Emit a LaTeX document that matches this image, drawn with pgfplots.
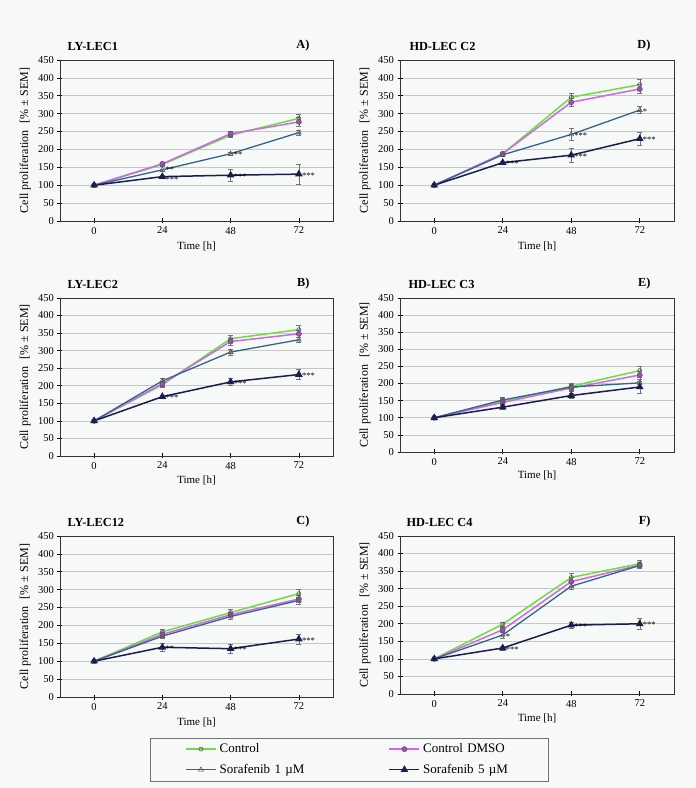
\documentclass[border=0pt]{standalone}
\usepackage{fontspec}
\setmainfont{Liberation Serif}
\usepackage{pgfplots}
\usepackage{pgfplotstable}
\pgfplotsset{compat=1.18}
\definecolor{bg}{RGB}{247,249,249}
\definecolor{ctrl}{RGB}{110,222,60}
\definecolor{dmso}{RGB}{205,105,232}
\definecolor{dmsom}{RGB}{165,70,205}
\definecolor{sorA}{RGB}{50,100,140}
\definecolor{sorB}{RGB}{28,28,78}

\pgfplotstableread{
t c ce d de s se v ve
0 100 2 100 2 100 2 100 2
24 158 4 160 4 143 3 124 3
48 240 6 244 6 188 4 128 17
72 287 12 277 12 247 6 131 27
}\tabA
\pgfplotstableread{
t c ce d de s se v ve
0 100 3 100 3 100 3 100 3
24 188 4 188 4 185 4 163 5
48 346 12 332 10 242 17 184 20
72 381 15 369 12 310 10 230 18
}\tabD
\pgfplotstableread{
t c ce d de s se v ve
0 100 3 100 3 100 3 100 3
24 203 8 206 8 214 7 169 5
48 334 10 326 10 296 8 211 10
72 360 12 348 10 331 8 232 14
}\tabB
\pgfplotstableread{
t c ce d de s se v ve
0 100 3 100 3 100 3 100 3
24 148 8 145 8 152 8 131 5
48 192 10 187 10 190 10 165 8
72 238 12 225 12 202 15 190 17
}\tabE
\pgfplotstableread{
t c ce d de s se v ve
0 100 3 100 3 100 3 100 3
24 182 7 175 7 170 7 139 10
48 236 9 230 8 225 8 135 12
72 289 11 274 10 270 10 162 14
}\tabC
\pgfplotstableread{
t c ce d de s se v ve
0 100 3 100 3 100 3 100 3
24 199 6 183 8 168 10 131 5
48 332 12 320 12 307 10 196 8
72 371 9 367 9 366 8 200 15
}\tabF

\pgfplotsset{
  panel/.style={
    scale only axis, anchor=south west, clip=false,
    xmin=-12, xmax=84, ymin=0, ymax=450,
    xtick={0,24,48,72}, ytick={0,50,...,450},
    ymajorgrids, grid style={black!22, line width=0.6pt},
    axis line style={black!80, line width=0.7pt},
    xtick pos=bottom, ytick pos=left, tick align=center,
    major tick length=5pt, tick style={black, line width=0.6pt},
    ticklabel style={font=\fontsize{10.5}{12}\selectfont},
    /pgf/number format/assume math mode=true,
    xlabel={Time [h]}, ylabel={Cell proliferation\hspace{0.6em}[\% ± SEM]},
    xlabel style={font=\fontsize{11}{13}\selectfont, at={(axis description cs:0.5,-0.155)}, anchor=center, inner sep=0pt},
    ylabel style={font=\fontsize{12}{14}\selectfont, at={(axis description cs:-0.128,0.5)}, anchor=center, inner sep=0pt},
    legend image code/.code={\draw[mark repeat=2, mark phase=2, #1] plot coordinates {(0pt,0pt) (15pt,0pt) (30pt,0pt)};},
  },
  eb/.style={error bars/y dir=both, error bars/y explicit,
    error bars/error bar style={line width=0.5pt, black!55},
    error bars/error mark options={line width=0.5pt, black!55, mark size=2.5pt, rotate=90}},
  cst/.style={eb, color=ctrl, line width=1.5pt, mark=o, mark size=2pt, mark options={draw=gray!70!black, line width=0.6pt, solid}},
  dst/.style={eb, color=dmso, line width=1.5pt, mark=*, mark size=2.6pt, mark options={fill=dmsom, draw=gray!60!black, line width=0.4pt, solid}},
  sst/.style={eb, color=sorA, line width=1.3pt, mark=triangle, mark size=2.8pt, mark options={draw=gray!70!black, line width=0.6pt, solid}},
  vst/.style={eb, color=sorB, line width=1.5pt, mark=triangle*, mark size=3pt, mark options={fill=sorB, draw=sorB, solid}},
}
\newcommand{\st}[4][1.5pt]{\node[anchor=north west, inner sep=0pt, text height=5.5pt, text depth=0pt, xshift=3pt, yshift=#1, font=\fontsize{8.5}{9}\selectfont] at (axis cs:#2,#3) {#4};}
\newcommand{\ttl}[3]{\node[anchor=west, xshift=#3, yshift=14pt, font=\bfseries\fontsize{12.3}{14}\selectfont] at (axis description cs:0,1) {#1};
  \node[anchor=east, xshift=-20pt, yshift=14pt, font=\bfseries\fontsize{12.3}{14}\selectfont] at (axis description cs:1,1) {#2};}
\newcommand{\plots}[1]{%
  \addplot[cst] table[x=t, y=c, y error=ce] {#1};
  \addplot[dst] table[x=t, y=d, y error=de] {#1};
  \addplot[sst] table[x=t, y=s, y error=se] {#1};
  \addplot[vst] table[x=t, y=v, y error=ve] {#1};}

\begin{document}
\begin{tikzpicture}
\useasboundingbox (0,0) rectangle (696pt,788pt);
\fill[bg] (0,0) rectangle (696pt,788pt);

% A
\begin{axis}[panel, at={(60pt,567pt)}, width=273pt, height=161pt]
\plots{\tabA}
\st[3pt]{24}{143}{**}\st{48}{188}{**}
\st[-0.5pt]{24}{124}{***}\st{48}{128}{***}\st{72}{131}{***}
\ttl{LY-LEC1}{A)}{4pt}
\end{axis}

% D
\begin{axis}[panel, at={(400pt,567pt)}, width=274pt, height=161pt]
\plots{\tabD}
\st{48}{242}{***}\st{72}{310}{*}
\st{24}{163}{***}\st{48}{184}{***}\st{72}{230}{***}
\ttl{HD-LEC C2}{D)}{6pt}
\end{axis}

% B
\begin{axis}[panel, at={(60pt,332pt)}, width=273pt, height=158pt]
\plots{\tabB}
\st{24}{169}{***}\st{48}{211}{***}\st{72}{232}{***}
\ttl{LY-LEC2}{B)}{4pt}
\end{axis}

% E
\begin{axis}[panel, at={(400pt,336pt)}, width=274pt, height=154pt]
\plots{\tabE}
\ttl{HD-LEC C3}{E)}{5pt}
\end{axis}

% C
\begin{axis}[panel, at={(60pt,91pt)}, width=273pt, height=161pt,
  legend columns=2, legend cell align=left,
  legend style={draw=none, fill=none, inner sep=0pt, anchor=west,
    at={(axis description cs:0.4579,-0.388)},
    font=\fontsize{13}{14}\selectfont, row sep=6pt,
    nodes={text width=166pt, align=left, inner xsep=3pt}}]
\plots{\tabC}
\legend{Control, Control DMSO, Sorafenib 1 µM, Sorafenib 5 µM}
\st{24}{139}{**}\st{48}{135}{***}\st{72}{162}{***}
\ttl{LY-LEC12}{C)}{4pt}
\end{axis}

% F
\begin{axis}[panel, at={(400pt,94pt)}, width=274pt, height=158pt]
\plots{\tabF}
\st{24}{168}{*}
\st{24}{131}{***}\st{48}{196}{***}\st{72}{200}{***}
\ttl{HD-LEC C4}{F)}{3pt}
\end{axis}

\draw[black!55, line width=1pt] (150pt,6pt) rectangle (548pt,49pt);
\end{tikzpicture}
\end{document}
